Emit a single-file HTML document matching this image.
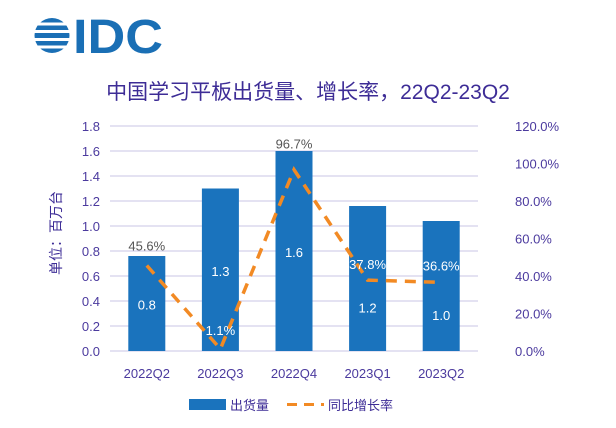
<!DOCTYPE html>
<html><head><meta charset="utf-8"><style>
html,body{margin:0;padding:0;background:#fff;}
body{width:616px;height:423px;overflow:hidden;font-family:"Liberation Sans","Noto Sans CJK SC",sans-serif;}
</style></head><body>
<svg id="chart" width="616" height="423" xmlns="http://www.w3.org/2000/svg" font-family="Liberation Sans, Noto Sans CJK SC, sans-serif">
<g>
 <clipPath id="lc"><circle cx="52" cy="35.5" r="17.5"/></clipPath>
 <g clip-path="url(#lc)" fill="#1a6fb5">
  <rect x="30" y="18" width="44" height="4.5"/>
  <rect x="30" y="25.5" width="44" height="4.5"/>
  <rect x="30" y="33" width="44" height="5"/>
  <rect x="30" y="41" width="44" height="4.5"/>
  <rect x="30" y="48.5" width="44" height="5"/>
 </g>
 <text x="73" y="53" font-size="48" font-weight="bold" fill="#1a6fb5" textLength="90" lengthAdjust="spacingAndGlyphs">IDC</text>
</g>
<text x="308" y="99" font-size="21" fill="#3d2c96" text-anchor="middle">中国学习平板出货量、增长率，22Q2-23Q2</text>
<text transform="translate(61,233) rotate(-90)" font-size="14" fill="#3d2c96" text-anchor="middle">单位：百万台</text>
<g id="grid"></g><g id="bars"></g><g id="line"></g><g id="labels"></g>
<g>
 <rect x="189" y="399" width="37" height="11" fill="#1a73bd"/>
 <text x="230" y="410" font-size="13" fill="#3d2c96">出货量</text>
 <line x1="287" y1="404.5" x2="324" y2="404.5" stroke="#f28a24" stroke-width="3" stroke-dasharray="10,7"/>
 <text x="328" y="410" font-size="13" fill="#3d2c96">同比增长率</text>
</g>
</svg>
<script>
const categories=["2022Q2","2022Q3","2022Q4","2023Q1","2023Q2"];
const shipments=[0.76,1.30,1.60,1.16,1.04];
const shipmentLabels=["0.8","1.3","1.6","1.2","1.0"];
const growth=[45.6,1.1,96.7,37.8,36.6];
const leftTicks=["0.0","0.2","0.4","0.6","0.8","1.0","1.2","1.4","1.6","1.8"];
const rightTicks=["0.0%","20.0%","40.0%","60.0%","80.0%","100.0%","120.0%"];
const NS="http://www.w3.org/2000/svg";
const X0=110,X1=478,Y0=351,Y1=126,LMAX=1.8,RMAX=120;
const band=(X1-X0)/categories.length;
const xc=i=>X0+band*(i+0.5);
const yl=v=>Y0-(v/LMAX)*(Y0-Y1);
const yr=v=>Y0-(v/RMAX)*(Y0-Y1);
function mk(tag,attrs,parent,txt){const e=document.createElementNS(NS,tag);for(const k in attrs)e.setAttribute(k,attrs[k]);if(txt!==undefined)e.textContent=txt;document.getElementById(parent).appendChild(e);return e;}
const purple="#4b3a9e";
leftTicks.forEach((t,i)=>{const v=i*0.2;const y=yl(v);
 const g=mk("line",{x1:X0,x2:X1,y1:y,y2:y,stroke:"#c9c6e6","stroke-width":1},"grid");
 
 
 const l=mk("text",{x:100,y:y+5,"font-size":13,fill:purple,"text-anchor":"end"},"grid",t);
 
 
});
rightTicks.forEach((t,i)=>{const y=yr(i*20);
 const l=mk("text",{x:515,y:y+5,"font-size":13,fill:purple},"grid",t);
 
 
});
const bw=37;
const barLabOff=[6,6,6,34,34];
categories.forEach((c,i)=>{
 const b=mk("rect",{x:xc(i)-bw/2,y:yl(shipments[i]),width:bw,height:Y0-yl(shipments[i]),fill:"#1a73bd"},"bars");
 
 
 const cl=mk("text",{x:xc(i),y:378,"font-size":13,fill:purple,"text-anchor":"middle"},"labels",c);
 
 
 const vl=mk("text",{x:xc(i),y:(yl(shipments[i])+Y0)/2+barLabOff[i],"font-size":13,fill:"#ffffff","text-anchor":"middle"},"labels",shipmentLabels[i]);
 
 
});
const pts=growth.map((g,i)=>xc(i)+","+yr(g)).join(" ");
const pl=mk("polyline",{points:pts,fill:"none",stroke:"#f28a24","stroke-width":3.5,"stroke-dasharray":"11,8"},"line");


const labOff=[-15,-14,-21,-11,-12];
const labCol=["#555","#fff","#555","#fff","#fff"];
growth.forEach((g,i)=>{
 const t=mk("text",{x:xc(i),y:yr(g)+labOff[i],"font-size":13,fill:labCol[i],"text-anchor":"middle"},"labels",g.toFixed(1)+"%");
 
 
});
</script>
</body></html>
